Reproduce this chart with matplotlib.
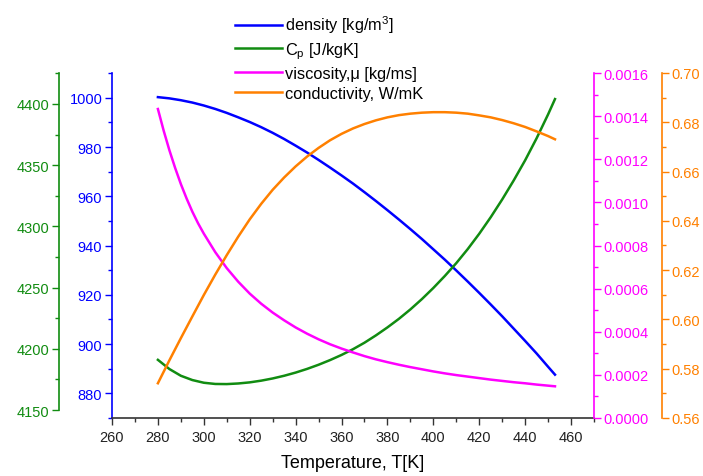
import matplotlib
matplotlib.use("Agg")
import matplotlib.pyplot as plt
from matplotlib.ticker import MultipleLocator, FormatStrFormatter

plt.rcParams['font.family'] = ['Liberation Sans', 'DejaVu Sans']
plt.rcParams['mathtext.fontset'] = 'custom'
plt.rcParams['mathtext.rm'] = 'Liberation Sans'
plt.rcParams['mathtext.it'] = 'Liberation Sans'

# temperature [K]
T = [280, 285, 290, 295, 300, 305, 310, 315, 320, 325, 330, 335, 340, 345,
     350, 355, 360, 365, 370, 375, 380, 385, 390, 395, 400, 405, 410, 415,
     420, 425, 430, 435, 440, 445, 450, 453]

# density [kg/m3]
density = [1000.3, 999.8, 999.05, 998.1, 996.9, 995.5, 993.9, 992.1, 990.2,
           988.1, 985.8, 983.3, 980.6, 977.8, 974.8, 971.7, 968.5, 965.2,
           961.7, 958.1, 954.4, 950.6, 946.7, 942.7, 938.5, 934.3, 929.9,
           925.4, 920.8, 916.1, 911.3, 906.3, 901.3, 896.2, 890.8, 887.6]

# Cp [J/kgK]
cp = [4191.0, 4183.5, 4178.0, 4174.5, 4172.3, 4171.3, 4171.2, 4171.7, 4172.6,
      4174.0, 4175.8, 4178.0, 4180.6, 4183.6, 4187.0, 4190.8, 4195.0, 4199.7,
      4205.0, 4211.0, 4217.5, 4224.5, 4232.2, 4240.6, 4249.7, 4259.5, 4270.0,
      4281.5, 4294.0, 4307.5, 4322.0, 4337.5, 4354.0, 4372.0, 4391.5, 4404.0]

# viscosity [kg/ms] (finer steps at the low-T end where it falls fast)
T_visc = [280, 282.5, 285, 287.5, 290, 292.5, 295, 297.5, 300, 305, 310, 315,
          320, 325, 330, 335, 340, 345, 350, 355, 360, 365, 370, 375, 380,
          385, 390, 395, 400, 405, 410, 415, 420, 425, 430, 435, 440, 445,
          450, 453]
visc = [0.001433, 0.001333, 0.001242, 0.001160, 0.001085, 0.001018, 0.000957,
        0.000903, 0.000855, 0.000769, 0.000695, 0.000632, 0.000577, 0.000530,
        0.000489, 0.000453, 0.000420, 0.000391, 0.000365, 0.000342, 0.000322,
        0.000304, 0.000287, 0.000272, 0.000259, 0.000247, 0.000236, 0.000226,
        0.000216, 0.000207, 0.000199, 0.000192, 0.000185, 0.000178, 0.000172,
        0.000166, 0.000161, 0.000155, 0.000150, 0.000147]

# conductivity [W/mK]
cond = [0.5741, 0.5834, 0.5924, 0.6012, 0.6099, 0.6182, 0.6261, 0.6336, 0.6406,
        0.6469, 0.6526, 0.6576, 0.6621, 0.6661, 0.6696, 0.6727, 0.6753, 0.6775,
        0.6793, 0.6808, 0.6820, 0.6829, 0.6835, 0.6839, 0.6841, 0.6841, 0.6839,
        0.6835, 0.6828, 0.6820, 0.6809, 0.6796, 0.6781, 0.6763, 0.6744, 0.6731]

c_blue = '#0000ff'
c_green = '#118c11'
c_mag = '#ff00ff'
c_orange = '#ff8000'

fig = plt.figure(figsize=(7.03, 4.77), dpi=100)
ax = fig.add_axes([112/703, 58/477, 482/703, 345/477])
ax_cp = ax.twinx()
ax_mu = ax.twinx()
ax_k = ax.twinx()

l1, = ax.plot(T, density, color=c_blue, lw=1.8)
l2, = ax_cp.plot(T, cp, color=c_green, lw=1.8)
l3, = ax_mu.plot(T_visc, visc, color=c_mag, lw=1.8)
l4, = ax_k.plot(T, cond, color=c_orange, lw=1.8)

ax.set_xlim(260, 470)
ax.xaxis.set_major_locator(MultipleLocator(20))
ax.xaxis.set_minor_locator(MultipleLocator(10))
ax.set_xlabel("Temperature, T[K]", fontsize=13, labelpad=7)

ax.set_ylim(870, 1010.1)
ax.yaxis.set_major_locator(MultipleLocator(20))
ax.yaxis.set_minor_locator(MultipleLocator(10))

ax_cp.set_ylim(4143.5, 4425.3)
ax_cp.yaxis.set_major_locator(MultipleLocator(50))
ax_cp.yaxis.set_minor_locator(MultipleLocator(25))
ax_cp.yaxis.set_ticks_position('left')
ax_cp.yaxis.set_label_position('left')
ax_cp.spines['left'].set_position(('outward', 38))
ax_cp.spines['left'].set_bounds(4150, 4425)

ax_mu.set_ylim(0, 0.0016)
ax_mu.yaxis.set_major_locator(MultipleLocator(0.0002))
ax_mu.yaxis.set_minor_locator(MultipleLocator(0.0001))
ax_mu.yaxis.set_major_formatter(FormatStrFormatter('%.4f'))

ax_k.set_ylim(0.56, 0.70)
ax_k.yaxis.set_major_locator(MultipleLocator(0.02))
ax_k.yaxis.set_minor_locator(MultipleLocator(0.01))
ax_k.yaxis.set_major_formatter(FormatStrFormatter('%.2f'))
ax_k.spines['right'].set_position(('outward', 49))

for a in [ax, ax_cp, ax_mu, ax_k]:
    for s in a.spines.values():
        s.set_visible(False)
    a.patch.set_visible(False)

ax.spines['bottom'].set_visible(True)
ax.spines['bottom'].set_color('#333333')
ax.spines['left'].set_visible(True)
ax.spines['left'].set_color(c_blue)
ax_cp.spines['left'].set_visible(True)
ax_cp.spines['left'].set_color(c_green)
ax_mu.spines['right'].set_visible(True)
ax_mu.spines['right'].set_color(c_mag)
ax_k.spines['right'].set_visible(True)
ax_k.spines['right'].set_color(c_orange)

for a, c in [(ax, c_blue), (ax_cp, c_green), (ax_mu, c_mag), (ax_k, c_orange)]:
    a.tick_params(axis='y', which='major', colors=c, labelcolor=c, length=5,
                  width=1, labelsize=10.5, pad=2)
    a.tick_params(axis='y', which='minor', colors=c, length=3, width=1)
    for s in a.spines.values():
        s.set_linewidth(1.2)

ax.tick_params(axis='x', which='major', colors='#333333', length=5, width=1,
               labelsize=10.5, labelcolor='#222222')
ax.tick_params(axis='x', which='minor', colors='#333333', length=3, width=1)

fig.legend([l1, l2, l3, l4],
           ["density [kg/m$^3$]", "C$_\\mathrm{p}$ [J/kgK]",
            "viscosity,\u03bc [kg/ms]", "conductivity, W/mK"],
           loc='upper left', bbox_to_anchor=(228/703, 1 - 8/477),
           frameon=False, fontsize=11.8, handlelength=2.9, handletextpad=0.2,
           labelspacing=0.3, borderaxespad=0)

fig.savefig("out.png", dpi=100)
